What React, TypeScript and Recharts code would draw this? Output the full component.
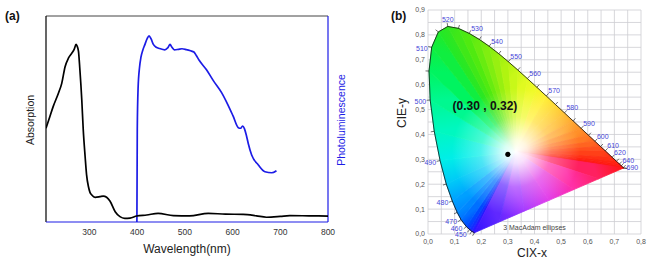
import React from "react";
import {
  LineChart,
  Line,
  ComposedChart,
  Scatter,
  XAxis,
  YAxis,
  CartesianGrid,
  ReferenceLine,
  ReferenceDot,
  Label,
} from "recharts";

const FONT = '"Liberation Sans", Arial, sans-serif';
const BLUE = "#1c1ce6";

// (a) absorption spectrum
const ABS_NM = [209, 217, 224, 235, 242, 249, 256, 263, 268, 272, 274, 277, 280, 284, 287, 291, 294, 298, 301, 305, 312, 322, 329, 336, 343, 354, 364, 374, 385, 399, 420, 444, 476, 510, 549, 585, 622, 650, 671, 700, 720, 760, 800];
const ABS_VAL = [0.455, 0.511, 0.56, 0.625, 0.673, 0.754, 0.795, 0.819, 0.838, 0.862, 0.855, 0.83, 0.74, 0.592, 0.45, 0.317, 0.23, 0.171, 0.145, 0.131, 0.12, 0.123, 0.126, 0.12, 0.102, 0.05, 0.026, 0.018, 0.019, 0.029, 0.034, 0.042, 0.031, 0.03, 0.042, 0.038, 0.037, 0.03, 0.023, 0.027, 0.031, 0.03, 0.029];

// (a) photoluminescence spectrum
const PL_NM = [399.5, 400.3, 402, 405, 408, 412, 416, 421, 425, 429, 434, 440, 447, 458, 464, 469, 473, 478, 486, 494, 503, 512, 519, 524, 530, 545, 560, 577, 590, 601, 612, 617, 621, 625, 629, 633, 640, 654, 668, 682, 692];
const PL_VAL = [0, 0.45, 0.65, 0.75, 0.8, 0.835, 0.86, 0.89, 0.904, 0.89, 0.862, 0.848, 0.842, 0.836, 0.845, 0.862, 0.848, 0.836, 0.838, 0.841, 0.837, 0.831, 0.825, 0.808, 0.785, 0.74, 0.685, 0.628, 0.57, 0.515, 0.458, 0.455, 0.466, 0.452, 0.42, 0.38, 0.325, 0.277, 0.244, 0.239, 0.249];

const WL_TICKS = [300, 400, 500, 600, 700, 800];
const WL_MIN = 209;
const WL_MAX = 800;

// (b) CIE 1931 spectral locus
const LOCUS_NM = [380, 440, 450, 460, 470, 475, 480, 485, 490, 495, 500, 505, 510, 515, 520, 525, 530, 535, 540, 545, 550, 555, 560, 565, 570, 575, 580, 585, 590, 595, 600, 605, 610, 620, 630, 640, 650, 680, 690, 700];
const LOCUS_X = [0.1741, 0.1644, 0.1566, 0.144, 0.1241, 0.1096, 0.0913, 0.0687, 0.0454, 0.0235, 0.0082, 0.0039, 0.0139, 0.0389, 0.0743, 0.1142, 0.1547, 0.1929, 0.2296, 0.2658, 0.3016, 0.3373, 0.3731, 0.4087, 0.4441, 0.4788, 0.5125, 0.5448, 0.5752, 0.6029, 0.627, 0.6482, 0.6658, 0.6915, 0.7079, 0.719, 0.726, 0.7334, 0.7344, 0.7347];
const LOCUS_Y = [0.005, 0.0109, 0.0177, 0.0297, 0.0578, 0.0868, 0.1327, 0.2007, 0.295, 0.4127, 0.5384, 0.6548, 0.7502, 0.812, 0.8338, 0.8262, 0.8059, 0.7816, 0.7543, 0.7243, 0.6923, 0.6589, 0.6245, 0.5896, 0.5547, 0.5202, 0.4866, 0.4544, 0.4242, 0.3965, 0.3725, 0.3514, 0.334, 0.3083, 0.292, 0.2809, 0.274, 0.2666, 0.2656, 0.2653];
const LABELED_NM = [450, 460, 470, 480, 490, 500, 510, 520, 530, 540, 550, 560, 570, 580, 590, 600, 610, 620, 640, 690];

const CIE_POINT_X = [0.3];
const CIE_POINT_Y = [0.32];
const WHITE_POINT = [0.33, 0.33];

const CIE_X_TICKS = [0, 0.05, 0.1, 0.15, 0.2, 0.25, 0.3, 0.35, 0.4, 0.45, 0.5, 0.55, 0.6, 0.65, 0.7, 0.75, 0.8];
const CIE_Y_TICKS = [0, 0.05, 0.1, 0.15, 0.2, 0.25, 0.3, 0.35, 0.4, 0.45, 0.5, 0.55, 0.6, 0.65, 0.7, 0.75, 0.8, 0.85, 0.9];

// colours along the locus (same order as LOCUS_NM) and along the purple line (red -> blue)
const LOCUS_COLORS = [
  "#3010ff", "#2020ff", "#1030ff", "#0048ff", "#0070ff", "#0088ff", "#00a0ff", "#00c8f8",
  "#00eee8", "#00f8c0", "#00f890", "#00f460", "#10ee40", "#20ea28", "#30e620", "#40e818",
  "#50ea10", "#68ec10", "#80ee10", "#98f010", "#b0f410", "#c8f818", "#e0fa20", "#f0fa28",
  "#fff030", "#ffd830", "#ffc030", "#ffa830", "#ff9028", "#ff7a24", "#ff6420", "#ff501c",
  "#ff4018", "#ff3014", "#ff2410", "#ff1c10", "#ff1810", "#ff1410", "#ff1410", "#ff1410",
];
const PURPLE_COLORS = ["#ff1410", "#ff2060", "#ff30a8", "#e030e8", "#a030ff", "#6028ff", "#3010ff"];

const absData = ABS_NM.map((nm, i) => ({ nm, v: ABS_VAL[i] }));
const plData = PL_NM.map((nm, i) => ({ nm, v: PL_VAL[i] }));
const locusData = LOCUS_NM.map((nm, i) => ({ nm, x: LOCUS_X[i], y: LOCUS_Y[i] }));
const pointData = CIE_POINT_X.map((x, i) => ({ x, y: CIE_POINT_Y[i] }));

const fmtCie = (v: number) =>
  Math.round(v * 100) % 10 === 0 ? v.toFixed(1).replace(".", ",") : "";

// the locus dots are collected, the whole diagram is drawn on the last one
let collected: { x: number; y: number }[] = [];

function renderLocusDot(props: any) {
  const { cx, cy, index } = props;
  if (index === 0) collected = [];
  collected[index] = { x: cx, y: cy };
  const last = LOCUS_NM.length - 1;
  if (index !== last) return <g key={`ld-${index}`} />;
  const pts = collected.slice();
  if (pts.length !== LOCUS_NM.length || pts.some((p) => !p || !isFinite(p.x) || !isFinite(p.y)))
    return <g key="ld-last" />;

  const i520 = LOCUS_NM.indexOf(520);
  const bx = (pts[last].x - pts[0].x) / (LOCUS_X[last] - LOCUS_X[0]);
  const ax = pts[0].x - bx * LOCUS_X[0];
  const by = (pts[i520].y - pts[0].y) / (LOCUS_Y[i520] - LOCUS_Y[0]);
  const ay = pts[0].y - by * LOCUS_Y[0];
  const W = { x: ax + bx * WHITE_POINT[0], y: ay + by * WHITE_POINT[1] };

  const grads: React.ReactNode[] = [];
  const tris: React.ReactNode[] = [];
  for (let i = 0; i < last; i++) {
    const a = pts[i];
    const b = pts[i + 1];
    const id = `cieEdge${i}`;
    grads.push(
      <linearGradient key={id} id={id} gradientUnits="userSpaceOnUse" x1={a.x} y1={a.y} x2={b.x + 0.01} y2={b.y + 0.01}>
        <stop offset="0" stopColor={LOCUS_COLORS[i]} />
        <stop offset="1" stopColor={LOCUS_COLORS[i + 1]} />
      </linearGradient>
    );
    tris.push(
      <path key={`t${i}`} d={`M${W.x},${W.y}L${a.x},${a.y}L${b.x},${b.y}Z`} fill={`url(#${id})`} stroke={`url(#${id})`} strokeWidth={0.8} strokeLinejoin="round" />
    );
  }
  const K = PURPLE_COLORS.length - 1;
  const lerp = (t: number) => ({
    x: pts[last].x + (pts[0].x - pts[last].x) * t,
    y: pts[last].y + (pts[0].y - pts[last].y) * t,
  });
  for (let j = 0; j < K; j++) {
    const a = lerp(j / K);
    const b = lerp((j + 1) / K);
    const id = `ciePurple${j}`;
    grads.push(
      <linearGradient key={id} id={id} gradientUnits="userSpaceOnUse" x1={a.x} y1={a.y} x2={b.x} y2={b.y}>
        <stop offset="0" stopColor={PURPLE_COLORS[j]} />
        <stop offset="1" stopColor={PURPLE_COLORS[j + 1]} />
      </linearGradient>
    );
    tris.push(
      <path key={`p${j}`} d={`M${W.x},${W.y}L${a.x},${a.y}L${b.x},${b.y}Z`} fill={`url(#${id})`} stroke={`url(#${id})`} strokeWidth={0.8} strokeLinejoin="round" />
    );
  }

  const closed = "M" + pts.map((p) => `${p.x},${p.y}`).join("L") + "Z";
  const outline = "M" + pts.map((p) => `${p.x},${p.y}`).join("L");

  const ticks: React.ReactNode[] = [];
  const labels: React.ReactNode[] = [];
  pts.forEach((p, i) => {
    const prev = pts[Math.max(i - 1, 0)];
    const next = pts[Math.min(i + 1, last)];
    let nx = next.y - prev.y;
    let ny = -(next.x - prev.x);
    let len = Math.hypot(nx, ny);
    if (len < 0.5) {
      nx = p.x - W.x;
      ny = p.y - W.y;
      len = Math.hypot(nx, ny);
    }
    nx /= len;
    ny /= len;
    if (nx * (p.x - W.x) + ny * (p.y - W.y) < 0) {
      nx = -nx;
      ny = -ny;
    }
    ticks.push(
      <line key={`k${i}`} x1={p.x} y1={p.y} x2={p.x + nx * 3.5} y2={p.y + ny * 3.5} stroke="#111" strokeWidth={0.6} />
    );
    const nm = LOCUS_NM[i];
    if (!LABELED_NM.includes(nm)) return;
    let tx = p.x + 2;
    let ty = p.y - 2.5;
    let anchor: "start" | "middle" | "end" = "start";
    if (nm <= 510) {
      tx = p.x - 4;
      ty = p.y + 4;
      anchor = "end";
    } else if (nm === 520) {
      tx = p.x;
      ty = p.y - 4;
      anchor = "middle";
    }
    if (nm === 450) {
      tx = p.x - 3;
      ty = p.y + 7;
    } else if (nm === 640) {
      tx = p.x + 3;
      ty = p.y - 1;
    } else if (nm === 690) {
      tx = p.x + 3;
      ty = p.y + 2;
    }
    labels.push(
      <text key={`l${i}`} x={tx} y={ty} textAnchor={anchor} fontSize={7} fill="#4646d8" fontFamily={FONT}>
        {nm}
      </text>
    );
  });

  return (
    <g key="ld-last">
      <defs>
        {grads}
        <radialGradient id="cieWhite" gradientUnits="userSpaceOnUse" cx={W.x} cy={W.y} r={bx * 0.24}>
          <stop offset="0" stopColor="#fff" stopOpacity={1} />
          <stop offset="0.18" stopColor="#fff" stopOpacity={0.85} />
          <stop offset="0.55" stopColor="#fff" stopOpacity={0.3} />
          <stop offset="1" stopColor="#fff" stopOpacity={0} />
        </radialGradient>
      </defs>
      {tris}
      <path d={closed} fill="url(#cieWhite)" stroke="none" />
      <path d={outline} fill="none" stroke="#111" strokeWidth={0.8} />
      {ticks}
      {labels}
    </g>
  );
}

function AbsorptionChart() {
  return (
    <LineChart width={350} height={263} margin={{ top: 16, right: 22, bottom: 0, left: 46 }}>
      <XAxis
        type="number"
        dataKey="nm"
        domain={[WL_MIN, WL_MAX]}
        ticks={WL_TICKS}
        allowDataOverflow
        height={41}
        axisLine={{ stroke: BLUE, strokeWidth: 1.2 }}
        tickLine={false}
        tickSize={4}
        tickMargin={3}
        tick={{ fontSize: 8.5, fill: "#333", fontFamily: FONT }}
      >
        <Label
          content={() => (
            <text x={187} y={253} textAnchor="middle" fontSize={12} fill="#222" fontFamily={FONT}>
              Wavelength(nm)
            </text>
          )}
        />
      </XAxis>
      <YAxis yAxisId="abs" domain={[0, 1]} hide />
      <YAxis yAxisId="pl" orientation="right" domain={[0, 1]} hide />
      <ReferenceLine yAxisId="abs" y={1} stroke="#444" strokeWidth={1} />
      <ReferenceLine yAxisId="abs" x={WL_MIN} stroke="#000" strokeWidth={1.2}>
        <Label
          content={() => (
            <text x={34} y={120} transform="rotate(-90 34 120)" textAnchor="middle" fontSize={10.5} fill="#222" fontFamily={FONT}>
              Absorption
            </text>
          )}
        />
      </ReferenceLine>
      <ReferenceLine yAxisId="pl" x={WL_MAX} stroke={BLUE} strokeWidth={1.2}>
        <Label
          content={() => (
            <text x={345} y={120} transform="rotate(-90 345 120)" textAnchor="middle" fontSize={10.5} fill={BLUE} fontFamily={FONT}>
              Photoluminescence
            </text>
          )}
        />
      </ReferenceLine>
      <Line yAxisId="pl" data={plData} dataKey="v" type="monotone" stroke={BLUE} strokeWidth={1.7} dot={false} activeDot={false} isAnimationActive={false} />
      <Line yAxisId="abs" data={absData} dataKey="v" type="monotone" stroke="#000" strokeWidth={1.7} dot={false} activeDot={false} isAnimationActive={false} />
    </LineChart>
  );
}

function CieChart() {
  return (
    <ComposedChart width={311} height={263} margin={{ top: 10, right: 20, bottom: 0, left: 60 }}>
      <CartesianGrid stroke="#cdcdd2" strokeWidth={0.8} />
      <XAxis
        type="number"
        dataKey="x"
        domain={[0, 0.8]}
        ticks={CIE_X_TICKS}
        interval={0}
        height={29}
        axisLine={false}
        tickLine={false}
        tickSize={1}
        tickMargin={4}
        tickFormatter={fmtCie}
        tick={{ fontSize: 7, fill: "#555", fontFamily: FONT }}
      >
        <Label
          content={() => (
            <text x={182} y={257} textAnchor="middle" fontSize={12} fill="#222" fontFamily={FONT}>
              CIX-x
            </text>
          )}
        />
      </XAxis>
      <YAxis
        type="number"
        dataKey="y"
        domain={[0, 0.9]}
        ticks={CIE_Y_TICKS}
        interval={0}
        width={18}
        axisLine={false}
        tickLine={false}
        tickSize={1}
        tickMargin={2}
        tickFormatter={fmtCie}
        tick={{ fontSize: 7, fill: "#555", fontFamily: FONT }}
      >
        <Label
          content={() => (
            <text x={56} y={113} transform="rotate(-90 56 113)" textAnchor="middle" fontSize={12} fill="#222" fontFamily={FONT}>
              CIE-y
            </text>
          )}
        />
      </YAxis>
      <Line data={locusData} dataKey="y" type="linear" stroke="none" dot={renderLocusDot} activeDot={false} isAnimationActive={false} />
      <Scatter
        data={pointData}
        isAnimationActive={false}
        shape={(p: any) => <circle cx={p.cx} cy={p.cy} r={2.6} fill="#000" />}
      />
      <ReferenceDot
        x={0.214}
        y={0.515}
        r={0}
        fill="none"
        stroke="none"
        label={{ value: "(0.30 , 0.32)", position: "center", fontSize: 12, fontWeight: "bold", fill: "#111", fontFamily: FONT }}
      />
      <ReferenceDot
        x={0.4}
        y={0.028}
        r={0}
        fill="none"
        stroke="none"
        label={{ value: "3  MacAdam ellipses", position: "center", fontSize: 7, fill: "#444", fontFamily: FONT }}
      />
    </ComposedChart>
  );
}

export default function App() {
  return (
    <div style={{ position: "absolute", left: 0, top: 0, width: 661, height: 263, background: "#fff", fontFamily: FONT }}>
      <div style={{ position: "absolute", left: 0, top: 0 }}>
        <AbsorptionChart />
      </div>
      <div style={{ position: "absolute", left: 350, top: 0 }}>
        <CieChart />
      </div>
      <svg width={661} height={263} style={{ position: "absolute", left: 0, top: 0, pointerEvents: "none" }}>
        <text x={5} y={20} fontSize={12} fontWeight="bold" fill="#111" fontFamily={FONT}>(a)</text>
        <text x={391} y={20} fontSize={12} fontWeight="bold" fill="#111" fontFamily={FONT}>(b)</text>
      </svg>
    </div>
  );
}
